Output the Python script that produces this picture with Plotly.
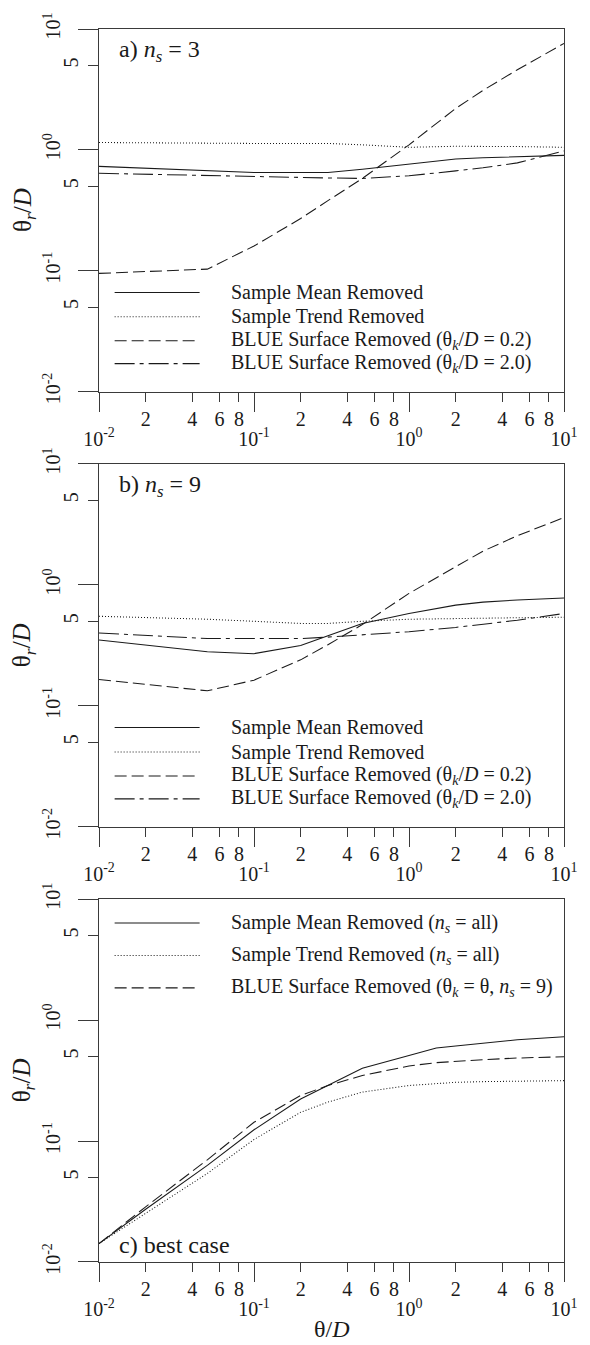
import plotly.graph_objects as go

# ---------------- data ----------------
theta_ab = [0.01, 0.05, 0.1, 0.2, 0.3, 0.5, 1, 2, 3, 5, 10]

mean_a = [0.73, 0.67, 0.65, 0.65, 0.65, 0.69, 0.76, 0.84, 0.86, 0.88, 0.90]
trend_a = [1.15, 1.13, 1.13, 1.13, 1.13, 1.10, 1.05, 1.07, 1.07, 1.065, 1.05]
blue02_a = [0.095, 0.103, 0.16, 0.27, 0.38, 0.58, 1.1, 2.2, 3.1, 4.6, 7.6]
blue20_a = [0.64, 0.61, 0.60, 0.59, 0.585, 0.58, 0.61, 0.67, 0.71, 0.78, 0.98]

mean_b = [0.35, 0.28, 0.27, 0.315, 0.38, 0.48, 0.58, 0.68, 0.72, 0.75, 0.78]
trend_b = [0.55, 0.52, 0.50, 0.48, 0.48, 0.50, 0.52, 0.53, 0.53, 0.535, 0.54]
blue02_b = [0.165, 0.133, 0.163, 0.24, 0.32, 0.47, 0.85, 1.4, 1.9, 2.55, 3.6]
blue20_b = [0.40, 0.36, 0.36, 0.36, 0.37, 0.385, 0.41, 0.445, 0.47, 0.51, 0.58]

theta_c = [0.01, 0.02, 0.05, 0.1, 0.2, 0.3, 0.5, 1, 1.5, 2, 3, 5, 10]
mean_c = [0.0142, 0.0273, 0.063, 0.124, 0.223, 0.288, 0.40, 0.51, 0.588, 0.61, 0.643, 0.689, 0.729]
trend_c = [0.0142, 0.0254, 0.054, 0.103, 0.173, 0.21, 0.254, 0.288, 0.30, 0.306, 0.31, 0.314, 0.316]
blue_c = [0.0142, 0.0286, 0.070, 0.143, 0.238, 0.288, 0.348, 0.418, 0.445, 0.457, 0.471, 0.486, 0.498]

names_ab = ["Sample Mean Removed",
            "Sample Trend Removed",
            "BLUE Surface Removed (θ<sub><i>k</i></sub>/<i>D</i> = 0.2)",
            "BLUE Surface Removed (θ<sub><i>k</i></sub>/D = 2.0)"]
names_c = ["Sample Mean Removed (<i>n<sub>s</sub></i> = all)",
           "Sample Trend Removed (<i>n<sub>s</sub></i> = all)",
           "BLUE Surface Removed (θ<sub><i>k</i></sub> = θ, <i>n<sub>s</sub></i> = 9)"]
panel_labels = ["a) <i>n<sub>s</sub></i> = 3", "b) <i>n<sub>s</sub></i> = 9", "c) best case"]

minor_x_vals = [2e-2, 4e-2, 6e-2, 8e-2, 2e-1, 4e-1, 6e-1, 8e-1, 2, 4, 6, 8]
minor_x_text = ["2", "4", "6", "8"] * 3
decade_vals = [0.01, 0.1, 1, 10]
decade_text = ["10<sup>-2</sup>", "10<sup>-1</sup>", "10<sup>0</sup>", "10<sup>1</sup>"]
five_vals = [0.05, 0.5, 5]
five_text = ["5", "5", "5"]

# ---------------- styling ----------------
FONT = "Liberation Serif, Times New Roman, serif"
INK = "#1a1a1a"
AX = "#3a3a3a"
DASHES = ["solid", "1px,2px", "12px,5px", "20px,5px,4px,5px"]

panels = [
    dict(x=theta_ab, ys=[mean_a, trend_a, blue02_a, blue20_a], names=names_ab,
         dom=[0.70598, 1.0], leg=[264.5, 289, 313, 336], lab_off=22),
    dict(x=theta_ab, ys=[mean_b, trend_b, blue02_b, blue20_b], names=names_ab,
         dom=[0.35299, 0.64725], leg=[264.5, 289, 313, 336], lab_off=22),
    dict(x=theta_c, ys=[mean_c, trend_c, blue_c], names=names_c,
         dom=[0.0, 0.29426], leg=[24, 56.5, 89], lab_off=347),
]
PH = 364.0  # panel height in px
PW = 476.0  # panel width in px

fig = go.Figure()
layout = dict(
    width=590, height=1345,
    margin=dict(l=99, r=15, t=24, b=83),
    paper_bgcolor="white", plot_bgcolor="white",
    showlegend=False,
    font=dict(family=FONT, size=20, color=INK),
)
shapes = []
annotations = []

for i, p in enumerate(panels):
    n = i + 1
    ov = i + 4
    xs = "" if n == 1 else str(n)
    xk, yk = "x" + xs, "y" + xs
    for j, (yv, nm) in enumerate(zip(p["ys"], p["names"])):
        fig.add_trace(go.Scatter(x=p["x"], y=yv, mode="lines", name=nm,
                                 line=dict(color=INK, width=1.05, dash=DASHES[j]),
                                 xaxis=xk, yaxis=yk, hoverinfo="skip"))
    # invisible trace that carries the overlay (decade) axes
    fig.add_trace(go.Scatter(x=p["x"], y=p["ys"][0], mode="lines",
                             line=dict(width=0, color="rgba(0,0,0,0)"),
                             xaxis="x" + str(ov), yaxis="y" + str(ov),
                             hoverinfo="skip", showlegend=False))

    common = dict(type="log", range=[-2, 1], showgrid=False, zeroline=False,
                  tickfont=dict(family=FONT, size=20, color=INK),
                  tickcolor=AX, tickwidth=1)
    layout["xaxis" + xs] = dict(common, domain=[0, 1], anchor=yk,
                                tickmode="array", tickvals=minor_x_vals, ticktext=minor_x_text,
                                ticks="outside", ticklen=9,
                                showline=True, linecolor=AX, linewidth=1, mirror=True)
    layout["yaxis" + xs] = dict(common, domain=p["dom"], anchor=xk,
                                tickmode="array", tickvals=five_vals, ticktext=five_text,
                                ticks="outside", ticklen=10, tickangle=-90,
                                ticklabelstandoff=2,
                                showline=True, linecolor=AX, linewidth=1, mirror=True)
    layout["xaxis" + str(ov)] = dict(common, overlaying=xk, anchor=yk, side="bottom",
                                     tickmode="array", tickvals=decade_vals, ticktext=decade_text,
                                     ticks="outside", ticklen=19, ticklabelstandoff=10,
                                     showline=False)
    layout["yaxis" + str(ov)] = dict(common, overlaying=yk, anchor=xk, side="left",
                                     tickmode="array", tickvals=decade_vals, ticktext=decade_text,
                                     ticks="outside", ticklen=20, tickangle=-90,
                                     ticklabelstandoff=10, showline=False)

    xd, yd = xk + " domain", yk + " domain"
    # legend drawn inside the panel
    for j, (nm, off) in enumerate(zip(p["names"], p["leg"])):
        yy = 1 - off / PH
        shapes.append(dict(type="line", xref=xd, yref=yd,
                           x0=(115 - 99) / PW, x1=(202 - 99) / PW, y0=yy, y1=yy,
                           line=dict(color=INK, width=1.05, dash=DASHES[j])))
        annotations.append(dict(text=nm, xref=xd, yref=yd, x=(232 - 99) / PW, y=yy,
                                xanchor="left", yanchor="middle", showarrow=False,
                                font=dict(family=FONT, size=20, color=INK)))
    # panel label
    annotations.append(dict(text=panel_labels[i], xref=xd, yref=yd,
                            x=(117 - 99) / PW, y=1 - p["lab_off"] / PH,
                            xanchor="left", yanchor="middle", showarrow=False,
                            font=dict(family=FONT, size=24, color=INK)))
    # y title
    annotations.append(dict(text="θ<sub><i>r</i></sub>/<i>D</i>", xref="paper", yref=yd,
                            x=(22 - 99) / PW, y=0.5, textangle=-90,
                            xanchor="center", yanchor="middle", showarrow=False,
                            font=dict(family=FONT, size=25, color=INK)))

annotations.append(dict(text="θ/<i>D</i>", xref="paper", yref="paper",
                        x=0.5, y=-82 / 1238, xanchor="center", yanchor="bottom",
                        showarrow=False, font=dict(family=FONT, size=24, color=INK)))

layout["shapes"] = shapes
layout["annotations"] = annotations
fig.update_layout(**layout)
fig.write_html("out.html")
